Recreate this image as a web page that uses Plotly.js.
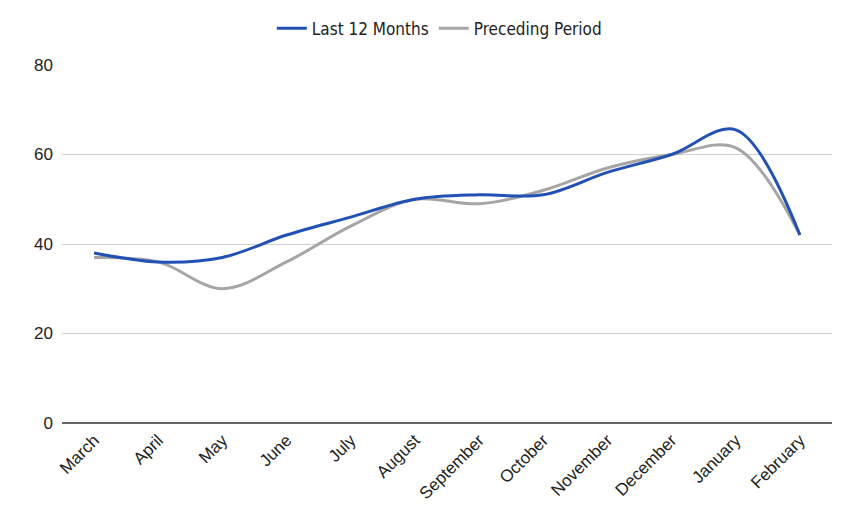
<!DOCTYPE html>
<html>
<head>
<meta charset="utf-8">
<script src="https://cdn.plot.ly/plotly-3.0.1.min.js"></script>
<style>
  html, body { margin: 0; padding: 0; background: #fff; }
  #chart { width: 852px; height: 521px; }
</style>
</head>
<body>
<div id="chart"></div>
<script>
// months shown on the x axis
var months = ['March', 'April', 'May', 'June', 'July', 'August', 'September',
              'October', 'November', 'December', 'January', 'February'];

// values
var last12 = [38, 36, 37, 42, 46, 50, 51, 51, 56, 60, 65.5, 42];
var preceding = [37, 36, 30, 36, 44, 50, 49, 52, 57, 60, 61.5, 42];

var tracePrev = {
  x: months,
  y: preceding,
  name: 'Preceding Period',
  type: 'scatter',
  mode: 'lines',
  line: { color: '#a5a5a5', width: 3, shape: 'spline', smoothing: 1 }
};

var traceLast = {
  x: months,
  y: last12,
  name: 'Last 12 Months',
  type: 'scatter',
  mode: 'lines',
  line: { color: '#2251b5', width: 3, shape: 'spline', smoothing: 1 }
};

var layout = {
  width: 852,
  height: 521,
  margin: { l: 62, r: 20, t: 65, b: 98 },
  paper_bgcolor: '#fff',
  plot_bgcolor: '#fff',
  font: { family: 'Liberation Sans, Arial, sans-serif', size: 17, color: '#222' },
  showlegend: true,
  legend: {
    orientation: 'h',
    x: 0.49, xanchor: 'center',
    yref: 'container',
    y: 0.945, yanchor: 'middle',
    traceorder: 'reversed',
    itemwidth: 30,
    font: { family: 'DejaVu Sans Condensed, Liberation Sans, sans-serif', size: 17, color: '#222' }
  },
  xaxis: {
    type: 'category',
    range: [-0.5, 11.5],
    tickangle: -45,
    showgrid: false,
    showline: false,
    ticks: '',
    zeroline: false,
    ticklabelstandoff: 3,
    tickfont: { family: 'Liberation Sans, Arial, sans-serif', size: 17, color: '#222' }
  },
  yaxis: {
    range: [0, 80],
    tickvals: [0, 20, 40, 60, 80],
    showgrid: true,
    gridcolor: '#d0d0d0',
    gridwidth: 1,
    zeroline: true,
    zerolinecolor: '#666',
    zerolinewidth: 2,
    ticks: '',
    ticklabelstandoff: 8,
    tickfont: { family: 'Liberation Sans, Arial, sans-serif', size: 17, color: '#222' }
  }
};

Plotly.newPlot('chart', [tracePrev, traceLast], layout, { displayModeBar: false, staticPlot: true });
</script>
</body>
</html>
